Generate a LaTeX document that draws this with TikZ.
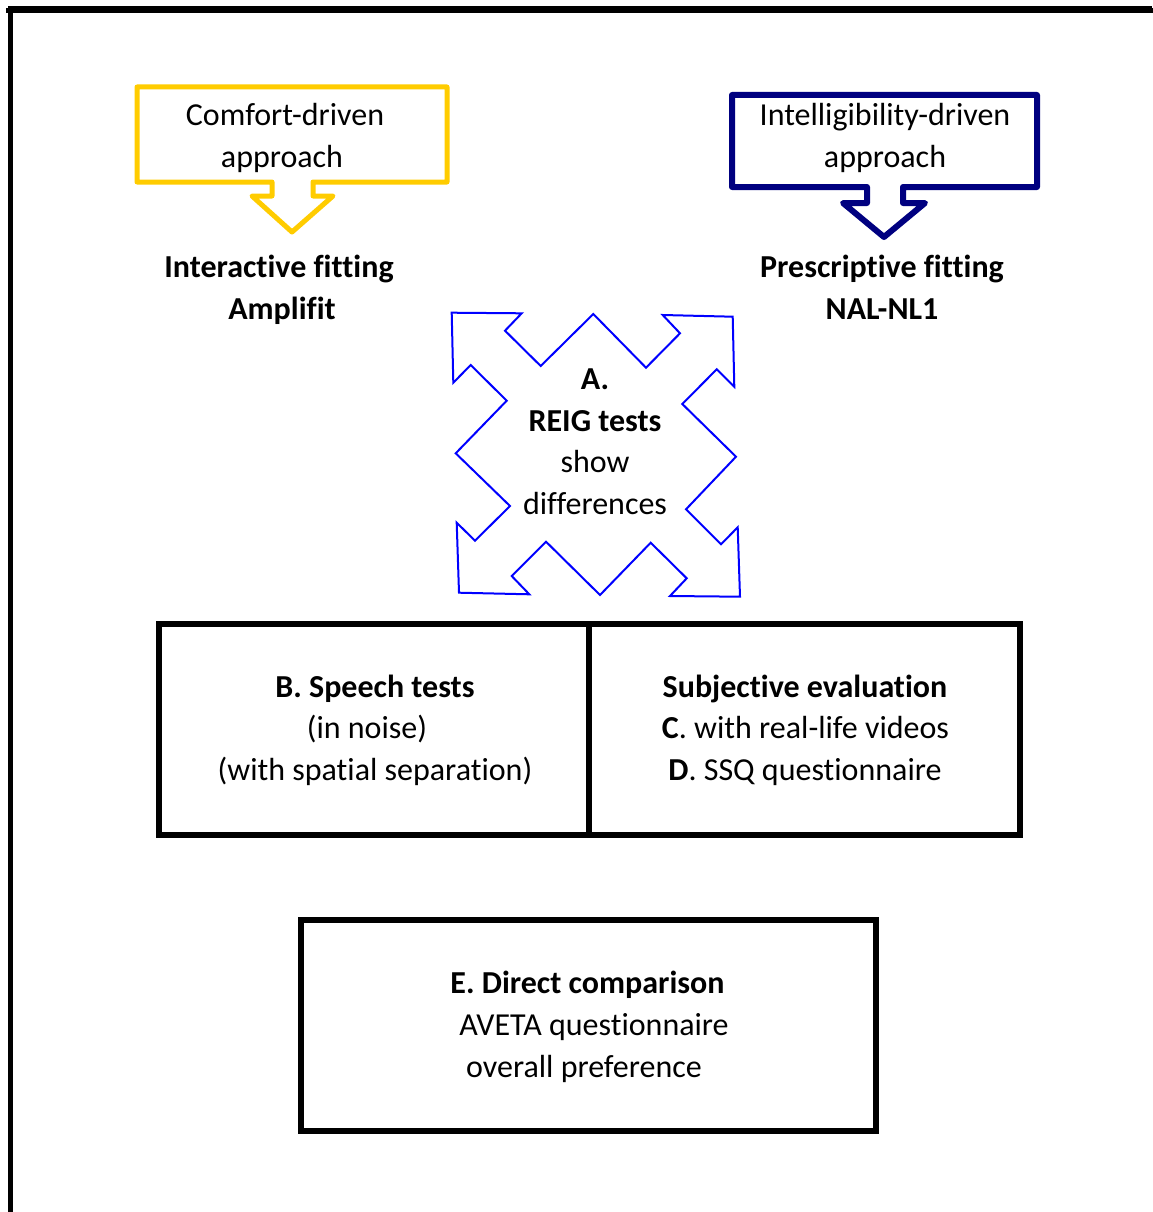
\documentclass[tikz,border=0pt]{standalone}
\usepackage{fontspec}
\setmainfont{Carlito}[Ligatures={NoCommon}]
\definecolor{cfyellow}{HTML}{FFCC00}
\definecolor{idnavy}{HTML}{000080}
\definecolor{reigblue}{HTML}{0000FF}
\begin{document}
\begin{tikzpicture}[x=1pt,y=-1pt,
  txt/.style={anchor=base,inner sep=0pt,font=\fontsize{32}{41.7}\selectfont},
  btxt/.style={txt,font=\fontsize{32}{41.7}\selectfont\bfseries},
  boxline/.style={draw=black,line width=6pt},
  frameline/.style={draw=black,line width=4.7pt}]
\useasboundingbox (0,0) rectangle (1152,1212);
% outer frame (only top and left visible)
\draw[frameline] (10.3,1212) -- (10.3,8) -- (1152,8);
\draw[frameline,line cap=rect] (8,10.3) -- (1152,10.3);
% comfort-driven callout
\draw[draw=cfyellow,line width=5pt,line join=round]
  (137,87) -- (447,87) -- (447,182) -- (313,182) -- (313,196) -- (333,196)
  -- (292,232) -- (252,196) -- (272,196) -- (272,182) -- (137,182) -- cycle;
\node[txt] (cf1) at (285,125) {Comfort-driven};
\node[txt] (cf2) at (282,167) {approach};
% intelligibility-driven callout
\draw[draw=idnavy,line width=6pt,line join=round]
  (732,95) -- (1037,95) -- (1037,187) -- (903,187) -- (903,203) -- (925,203)
  -- (884,237) -- (843,203) -- (867,203) -- (867,187) -- (732,187) -- cycle;
\node[txt] (id1) at (885,125) {Intelligibility-driven};
\node[txt] (id2) at (885,167) {approach};
% fitting labels
\node[btxt] (if1) at (279,277) {Interactive fitting};
\node[btxt] (if2) at (282,319) {Amplifit};
\node[btxt] (pf1) at (882,277) {Prescriptive fitting};
\node[btxt] (pf2) at (882,319) {NAL-NL1};
% four-way arrow
\draw[draw=reigblue,line width=2pt,line join=miter]
  (451.7,312.7) -- (521.7,313.3) -- (505,330.7) -- (540.7,366) -- (593.3,314)
  -- (646,367.7) -- (680,333.3) -- (662.7,315) -- (732.7,316.7) -- (734.3,386.7)
  -- (716.7,369.3) -- (682.3,404) -- (736,456.7) -- (686,509.3) -- (721,544.3)
  -- (737.7,527.3) -- (740,596.7) -- (670,596) -- (686.7,578.3) -- (650.7,542.7)
  -- (600,595) -- (546,541.7) -- (511.7,576) -- (529.3,594.3) -- (459,592.7)
  -- (456.7,522.7) -- (475,540.7) -- (510,506) -- (455.7,453.3) -- (506.7,400.7)
  -- (470.7,365) -- (453.3,382.7) -- cycle;
\node[btxt] (a1) at (595,389) {A.};
\node[btxt] (a2) at (595,431) {REIG tests};
\node[txt] (a3) at (595,472) {show};
\node[txt] (a4) at (595,514) {differences};
% B / C-D boxes
\draw[boxline] (159,624) rectangle (1019.7,835);
\draw[boxline] (589,624) -- (589,835);
\node[btxt] (b1) at (375,697) {B. Speech tests};
\node[txt] (b2) at (367,738) {(in noise)};
\node[txt] (b3) at (375,780) {(with spatial separation)};
\node[btxt] (s1) at (805,697) {Subjective evaluation};
\node[txt] (s2) at (805.5,738) {\textbf{C}. with real-life videos};
\node[txt] (s3) at (805,780) {\textbf{D}. SSQ questionnaire};
% E box
\draw[boxline] (301.3,919.7) rectangle (876.3,1131.3);
\node[btxt] (e1) at (587.5,993) {E. Direct comparison};
\node[txt] (e2) at (594,1035) {AVETA questionnaire};
\node[txt] (e3) at (584,1077) {overall preference};
\end{tikzpicture}
\end{document}
